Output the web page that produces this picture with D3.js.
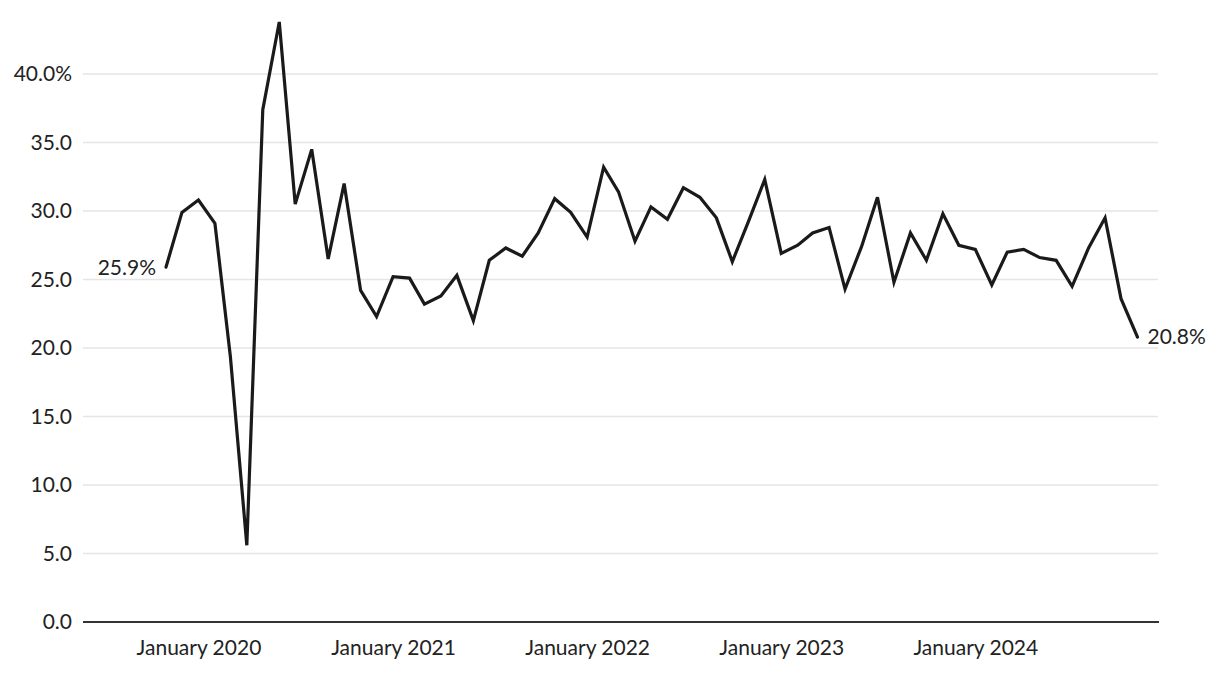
<!DOCTYPE html>
<html>
<head>
<meta charset="utf-8">
<script src="https://cdn.jsdelivr.net/npm/d3@7"></script>
<style>
  html, body { margin: 0; padding: 0; background: #fff; }
  svg { display: block; }
  text { font-family: "Source Sans Pro", Lato, "Noto Sans", sans-serif; fill: #222; }
</style>
</head>
<body>
<svg id="chart" width="1220" height="674"></svg>
<script>
// Monthly values, November 2019 through November 2024
const startMonth = "2019-11";
const values = [
  25.9, 29.9, 30.8, 29.1, 19.4, 5.6, 37.4, 43.8, 30.5, 34.5, 26.5, 32.0,
  24.2, 22.3, 25.2, 25.1, 23.2, 23.8, 25.3, 22.0, 26.4, 27.3, 26.7, 28.4,
  30.9, 29.9, 28.1, 33.2, 31.4, 27.8, 30.3, 29.4, 31.7, 31.0, 29.5, 26.3,
  29.3, 32.3, 26.9, 27.5, 28.4, 28.8, 24.3, 27.4, 31.0, 24.8, 28.4, 26.4,
  29.8, 27.5, 27.2, 24.6, 27.0, 27.2, 26.6, 26.4, 24.5, 27.3, 29.5, 23.6,
  20.8
];
const yTicks = [0, 5, 10, 15, 20, 25, 30, 35, 40];
const xTickLabels = ["January 2020", "January 2021", "January 2022", "January 2023", "January 2024"];
const xTickDates = ["2020-01", "2021-01", "2022-01", "2023-01", "2024-01"];

const parse = d3.timeParse("%Y-%m");
const start = parse(startMonth);
const data = values.map((v, i) => ({ date: d3.timeMonth.offset(start, i), value: v }));

const svg = d3.select("#chart");
const plotLeft = 83, plotRight = 1159;
const fontSize = "21px";

const x = d3.scaleTime()
  .domain([data[0].date, data[data.length - 1].date])
  .range([166, 1137.5]);

const y = d3.scaleLinear()
  .domain([0, 40])
  .range([622, 74]);

// gridlines
svg.append("g")
  .selectAll("line")
  .data(yTicks.filter(d => d !== 0))
  .join("line")
  .attr("x1", plotLeft).attr("x2", plotRight - 1)
  .attr("y1", d => y(d)).attr("y2", d => y(d))
  .attr("stroke", "#e5e5e5")
  .attr("stroke-width", 1.6);

// y axis labels
const yAxis = d3.axisLeft(y)
  .tickValues(yTicks)
  .tickSize(0)
  .tickPadding(0)
  .tickFormat(d => d === 40 ? d3.format(".1f")(d) + "%" : d3.format(".1f")(d));
const yg = svg.append("g").attr("transform", `translate(72,0)`).call(yAxis);
yg.select(".domain").remove();
yg.selectAll("text").style("font-size", fontSize).attr("fill", "#222");

// x axis
const xAxis = d3.axisBottom(x)
  .tickValues(xTickDates.map(parse))
  .tickSize(0)
  .tickPadding(18)
  .tickFormat((d, i) => xTickLabels[i]);
const xg = svg.append("g").attr("transform", "translate(0,622)").call(xAxis);
xg.select(".domain").remove();
xg.selectAll("text").style("font-size", fontSize).attr("fill", "#222");

svg.append("line")
  .attr("x1", plotLeft).attr("x2", plotRight)
  .attr("y1", y(0)).attr("y2", y(0))
  .attr("stroke", "#333")
  .attr("stroke-width", 2.2);

// line
const line = d3.line().x(d => x(d.date)).y(d => y(d.value));
svg.append("path")
  .datum(data)
  .attr("d", line)
  .attr("fill", "none")
  .attr("stroke", "#1a1a1a")
  .attr("stroke-width", 3.2)
  .attr("stroke-linejoin", "miter")
  .attr("stroke-linecap", "round");

// end labels
const first = data[0], last = data[data.length - 1];
svg.append("text")
  .attr("x", x(first.date) - 10)
  .attr("y", y(first.value))
  .attr("dy", "0.35em")
  .attr("text-anchor", "end")
  .style("font-size", fontSize)
  .text(d3.format(".1f")(first.value) + "%");
svg.append("text")
  .attr("x", x(last.date) + 10)
  .attr("y", y(last.value))
  .attr("dy", "0.35em")
  .attr("text-anchor", "start")
  .style("font-size", fontSize)
  .text(d3.format(".1f")(last.value) + "%");
</script>
</body>
</html>
